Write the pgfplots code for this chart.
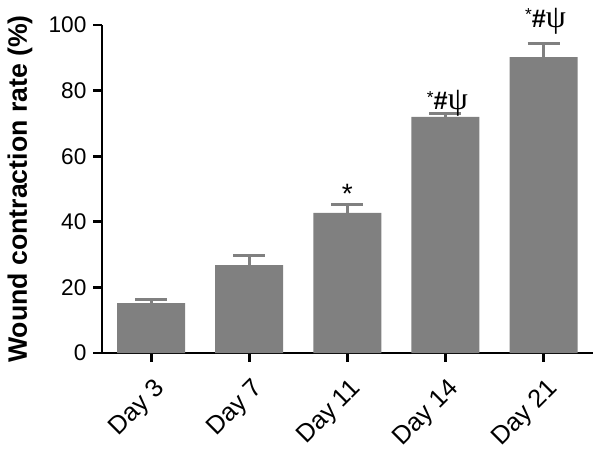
\documentclass[border=0pt]{standalone}
\usepackage{fontspec}
\setmainfont{Liberation Sans}
\newfontfamily\seriffont{Liberation Serif}
\usepackage{pgfplots}
\pgfplotsset{compat=1.18}
\definecolor{bargray}{HTML}{808080}

\begin{document}
\begin{tikzpicture}
\begin{axis}[
    name=ax,
    scale only axis, width=368pt, height=246pt,
    ybar, bar width=51pt,
    xmin=-0.5, xmax=4.5, ymin=0, ymax=100,
    xtick=data, xticklabels={Day 3,Day 7,Day 11,Day 14,Day 21},
    ytick={0,20,40,60,80,100},
    axis x line=bottom, axis y line=left,
    axis line style={-, line width=2.2pt, black},
    tick style={black, line width=2.2pt},
    tick align=outside, major tick length=6.5pt,
    font=\fontsize{17}{19}\selectfont,
    /pgf/number format/assume math mode=true,
    x tick label style={font=\fontsize{19}{21}\selectfont, rotate=45, anchor=north east, inner sep=1pt, xshift=-6pt, yshift=-8pt},
    y tick label style={font=\fontsize{17}{19}\selectfont, inner sep=2pt, xshift=-3pt},
    ylabel={\bfseries Wound contraction rate (\%)},
    ylabel style={font=\fontsize{20}{22}\selectfont, at={(axis description cs:0,0.5)}, anchor=center, yshift=61.5pt},
    clip=false,
]
\addplot[fill=bargray, draw=none,
    error bars/.cd, y dir=plus, y explicit,
    error bar style={bargray, line width=2.2pt},
    error mark options={bargray, line width=2.2pt, mark size=12pt, rotate=90}]
    coordinates {
    (0,15.2) +- (0,1.0)
    (1,26.8) +- (0,2.8)
    (2,42.7) +- (0,2.7)
    (3,72.0) +- (0,0.9)
    (4,90.2) +- (0,4.3)};
\node[font=\fontsize{21}{21}\selectfont] at (axis cs:2,48.5) {*};
\node at (axis cs:3.02,76) {\raisebox{5pt}{\fontsize{13}{13}\selectfont *}\textbf{\fontsize{19}{19}\selectfont\#}{\seriffont\fontsize{24}{24}\selectfont ψ}};
\node at (axis cs:4.02,101.2) {\raisebox{5pt}{\fontsize{13}{13}\selectfont *}\textbf{\fontsize{19}{19}\selectfont\#}{\seriffont\fontsize{24}{24}\selectfont ψ}};
\end{axis}
\pgfresetboundingbox
\path[use as bounding box] ([shift={(-76.5pt,-75.75pt)}]ax.south west) rectangle ([shift={(373.5pt,264.75pt)}]ax.south west);
\end{tikzpicture}
\end{document}
